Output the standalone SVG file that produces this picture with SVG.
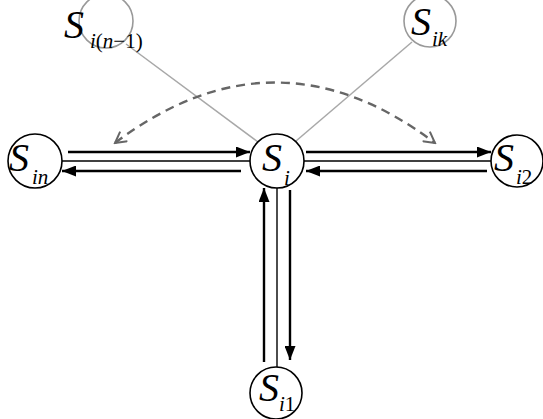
<svg xmlns="http://www.w3.org/2000/svg" width="543" height="419" viewBox="0 0 543 419">
<defs>
<style>
.node{fill:#fff;stroke:#000;stroke-width:1.6}
.gnode{fill:#fff;stroke:#999;stroke-width:1.6}
.big{font-family:"Liberation Serif","Times New Roman",serif;font-style:italic;font-size:40px;fill:#000}
.sub{font-family:"Liberation Serif","Times New Roman",serif;font-style:italic;font-size:21px;fill:#000}
.up{font-style:normal}
.arr{stroke:#000;stroke-width:2.4;fill:none;marker-end:url(#ah)}
.mid{stroke:#000;stroke-width:1.4;fill:none}
.gray{stroke:#a8a8a8;stroke-width:1.5;fill:none}
.dash{stroke:#666;stroke-width:2.4;fill:none;stroke-dasharray:9 6;marker-start:url(#oh);marker-end:url(#oh)}
</style>
<marker id="ah" viewBox="0 0 14 11" refX="14" refY="5.5" markerWidth="14" markerHeight="11" markerUnits="userSpaceOnUse" orient="auto">
<path d="M0,0 L14,5.5 L0,11 Z" fill="#000"/>
</marker>
<marker id="oh" viewBox="0 0 14 14" refX="12" refY="7" markerWidth="14" markerHeight="14" markerUnits="userSpaceOnUse" orient="auto-start-reverse">
<path d="M1,1 L12,7 L1,13" fill="none" stroke="#666" stroke-width="2"/>
</marker>
</defs>
<rect width="543" height="419" fill="#fff"/>
<g id="connectors">
<line class="gray" x1="126" y1="44" x2="258" y2="142"/>
<line class="gray" x1="412" y1="42" x2="296" y2="141"/>
<path class="dash" d="M115,143 Q275,22 435,143"/>
<line class="arr" x1="68" y1="152" x2="250" y2="152"/>
<line class="mid" x1="62" y1="161" x2="250" y2="161"/>
<line class="arr" x1="241" y1="171" x2="62" y2="171"/>
<line class="arr" x1="306" y1="152" x2="491" y2="152"/>
<line class="mid" x1="304" y1="161" x2="491" y2="161"/>
<line class="arr" x1="487" y1="171" x2="306" y2="171"/>
<line class="arr" x1="264" y1="362" x2="264" y2="188"/>
<line class="mid" x1="277" y1="188" x2="277" y2="367"/>
<line class="arr" x1="290" y1="190" x2="290" y2="360"/>
</g>
<g id="node-Sin">
<circle class="node" cx="35" cy="161" r="27"/>
<text class="big" x="9" y="171">S</text>
<text class="sub" x="32" y="184">in</text>
</g>
<g id="node-Si">
<circle class="node" cx="277" cy="161" r="27"/>
<text class="big" x="262" y="171">S</text>
<text class="sub" x="284" y="185">i</text>
</g>
<g id="node-Si2">
<circle class="node" cx="517" cy="161" r="26"/>
<text class="big" x="494" y="171">S</text>
<text class="sub" x="516" y="184">i<tspan class="up">2</tspan></text>
</g>
<g id="node-Si1">
<circle class="node" cx="276" cy="393" r="26"/>
<text class="big" x="259" y="401">S</text>
<text class="sub" x="279" y="411">i<tspan class="up">1</tspan></text>
</g>
<g id="node-Sin1">
<circle class="gnode" cx="106" cy="21" r="27"/>
<text class="big" x="64" y="38">S</text>
<text class="sub" x="90" y="48">i<tspan class="up">(</tspan>n<tspan class="up">−1)</tspan></text>
</g>
<g id="node-Sik">
<circle class="gnode" cx="430" cy="21" r="26"/>
<text class="big" x="411" y="35">S</text>
<text class="sub" x="432" y="46">ik</text>
</g>
</svg>
